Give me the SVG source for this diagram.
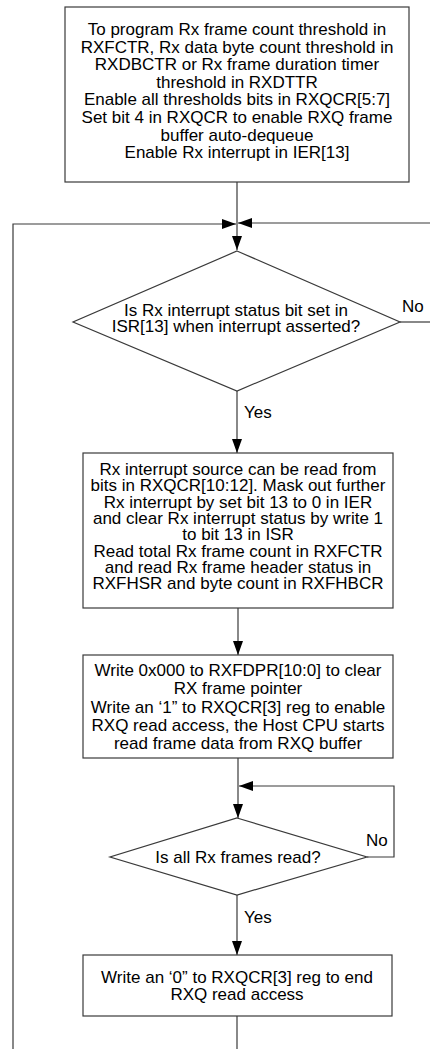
<svg xmlns="http://www.w3.org/2000/svg" width="430" height="1049" viewBox="0 0 430 1049">
<style>
.bx{fill:#fff;stroke:#3a3a3a;stroke-width:1.2}
.ln{fill:none;stroke:#3a3a3a;stroke-width:1.2}
.t{font-family:"Liberation Sans",Arial,sans-serif;font-size:17px;fill:#000;text-anchor:middle}
.l{font-family:"Liberation Sans",Arial,sans-serif;font-size:17px;fill:#000}
</style>
<defs>
<marker id="ah" markerUnits="userSpaceOnUse" markerWidth="14" markerHeight="10" refX="14" refY="5" orient="auto">
<path d="M0,0 L14,5 L0,10 z" fill="#000"/>
</marker>
</defs>
<rect width="430" height="1049" fill="#fff"/>
<g id="connectors">
<path class="ln" d="M237,182 V250" marker-end="url(#ah)"/>
<path class="ln" d="M13,1049 V224 H236" marker-end="url(#ah)"/>
<path class="ln" d="M400,322 H430"/>
<path class="ln" d="M430,223 H238" marker-end="url(#ah)"/>
<path class="ln" d="M237,391 V453" marker-end="url(#ah)"/>
<path class="ln" d="M238,608 V655" marker-end="url(#ah)"/>
<path class="ln" d="M238,758 V818" marker-end="url(#ah)"/>
<path class="ln" d="M367,857 H394 V786 H239" marker-end="url(#ah)"/>
<path class="ln" d="M237,895 V955" marker-end="url(#ah)"/>
<path class="ln" d="M237,1016 V1049"/>
<text class="l" x="402" y="312">No</text>
<text class="l" x="244" y="418">Yes</text>
<text class="l" x="366" y="846">No</text>
<text class="l" x="244" y="923">Yes</text>
</g>
<g id="init">
<rect class="bx" x="65" y="7" width="344" height="175"/>
<text class="t" x="237" y="35">To program Rx frame count threshold in</text>
<text class="t" x="237" y="52.6">RXFCTR, Rx data byte count threshold in</text>
<text class="t" x="237" y="70.2">RXDBCTR or Rx frame duration timer</text>
<text class="t" x="237" y="87.8">threshold in RXDTTR</text>
<text class="t" x="237" y="105.4">Enable all thresholds bits in RXQCR[5:7]</text>
<text class="t" x="237" y="123">Set bit 4 in RXQCR to enable RXQ frame</text>
<text class="t" x="237" y="140.6">buffer auto-dequeue</text>
<text class="t" x="237" y="158.2">Enable Rx interrupt in IER[13]</text>
</g>
<g id="check-isr">
<polygon class="bx" points="237,251 400,322 237,391 73,322"/>
<text class="t" x="236" y="316">Is Rx interrupt status bit set in</text>
<text class="t" x="236" y="332">ISR[13] when interrupt asserted?</text>
</g>
<g id="read-source">
<rect class="bx" x="83" y="453" width="310" height="155"/>
<text class="t" x="238" y="475">Rx interrupt source can be read from</text>
<text class="t" x="238" y="491.3">bits in RXQCR[10:12]. Mask out further</text>
<text class="t" x="238" y="507.6">Rx interrupt by set bit 13 to 0 in IER</text>
<text class="t" x="238" y="523.9">and clear Rx interrupt status by write 1</text>
<text class="t" x="238" y="540.2">to bit 13 in ISR</text>
<text class="t" x="238" y="556.5">Read total Rx frame count in RXFCTR</text>
<text class="t" x="238" y="572.8">and read Rx frame header status in</text>
<text class="t" x="238" y="589.1">RXFHSR and byte count in RXFHBCR</text>
</g>
<g id="clear-pointer">
<rect class="bx" x="83" y="655" width="310" height="103"/>
<text class="t" x="238" y="676">Write 0x000 to RXFDPR[10:0] to clear</text>
<text class="t" x="238" y="694.3">RX frame pointer</text>
<text class="t" x="238" y="712.6">Write an ‘1” to RXQCR[3] reg to enable</text>
<text class="t" x="238" y="730.9">RXQ read access, the Host CPU starts</text>
<text class="t" x="238" y="749.2">read frame data from RXQ buffer</text>
</g>
<g id="check-frames">
<polygon class="bx" points="237,818 367,857 237,895 110,857"/>
<text class="t" x="238" y="863">Is all Rx frames read?</text>
</g>
<g id="end-access">
<rect class="bx" x="83" y="955" width="309" height="61"/>
<text class="t" x="237" y="983">Write an ‘0” to RXQCR[3] reg to end</text>
<text class="t" x="237" y="999.5">RXQ read access</text>
</g>
</svg>
